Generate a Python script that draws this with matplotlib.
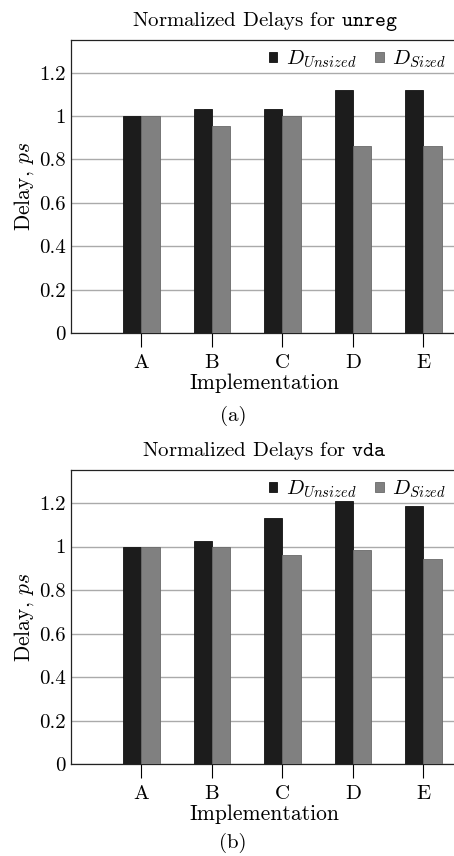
import matplotlib
matplotlib.use("Agg")
import matplotlib.pyplot as plt
import numpy as np

plt.rcParams['font.family'] = 'serif'
plt.rcParams['font.serif'] = ['cmr10']
plt.rcParams['mathtext.fontset'] = 'cm'
plt.rcParams['axes.formatter.use_mathtext'] = True

impls = ['A', 'B', 'C', 'D', 'E']
unreg_unsized = [1.0, 1.031, 1.031, 1.122, 1.122]
unreg_sized = [1.0, 0.953, 1.0, 0.86, 0.86]
vda_unsized = [1.0, 1.027, 1.131, 1.209, 1.184]
vda_sized = [1.0, 1.0, 0.962, 0.982, 0.943]
yticks = [0, 0.2, 0.4, 0.6, 0.8, 1.0, 1.2]
ytick_labels = ['0', '0.2', '0.4', '0.6', '0.8', '1', '1.2']

W, H = 454, 856
fig = plt.figure(figsize=(W / 100, H / 100), dpi=100)

BLACK = '#1c1c1c'
GRAY = '#808080'
w = 0.26


def panel(top_px, bottom_px, unsized, sized, name, tag, tag_px):
    ax = fig.add_axes([71 / W, 1 - bottom_px / H, (W - 71) / W + 0.01,
                       (bottom_px - top_px) / H])
    x = np.arange(len(impls))
    ax.bar(x - w / 2, unsized, w, color=BLACK, edgecolor='#111111',
           linewidth=0.6, zorder=3, label=r'$D_{Unsized}$')
    ax.bar(x + w / 2, sized, w, color=GRAY, edgecolor='#6a6a6a',
           linewidth=0.6, zorder=3, label=r'$D_{Sized}$')
    ax.set_xlim(-1.0, 4.5)
    ax.set_ylim(0, 1.35)
    ax.set_yticks(yticks)
    ax.set_yticklabels(ytick_labels)
    ax.set_xticks(x)
    ax.set_xticklabels(impls)
    ax.yaxis.grid(True, color='#aaaaaa', linewidth=1.0, zorder=0)
    ax.tick_params(axis='y', length=0, labelsize=15, pad=4)
    ax.tick_params(axis='x', length=10, width=0.8, labelsize=15,
                   direction='out', pad=5)
    ax.spines['right'].set_visible(False)
    for s in ['left', 'top', 'bottom']:
        ax.spines[s].set_linewidth(0.9)
        ax.spines[s].set_color('#222222')
    ax.set_title('Normalized Delays for $\\mathtt{' + name + '}$',
                 fontsize=15, pad=10)
    ax.set_xlabel('Implementation', fontsize=15.5, labelpad=1)
    ax.set_ylabel('Delay, $ps$', fontsize=15.5, labelpad=2)
    ax.legend(loc='upper right', ncol=2, frameon=False, fontsize=15,
              handlelength=0.4, handleheight=0.4, handletextpad=0.4,
              columnspacing=0.9, borderaxespad=0.0,
              bbox_to_anchor=(0.99, 1.0))
    fig.text(233 / W, 1 - tag_px / H, tag, ha='center',
             va='center', fontsize=15)
    return ax


panel(40, 333.3, unreg_unsized, unreg_sized, 'unreg', '(a)', 416)
panel(470.3, 764.3, vda_unsized, vda_sized, 'vda', '(b)', 843)

fig.savefig('out.png', dpi=100)
